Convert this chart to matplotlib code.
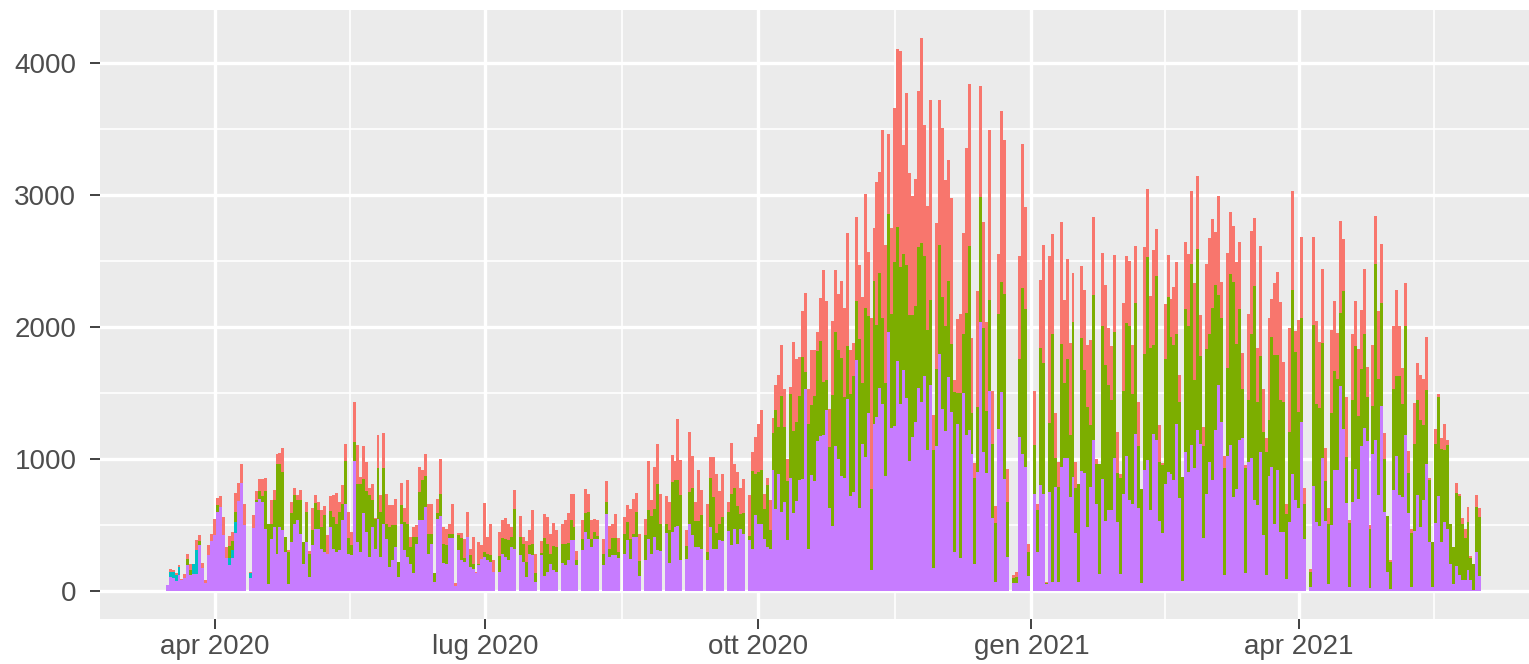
import numpy as np
import pandas as pd
import matplotlib
matplotlib.use("Agg")
import matplotlib.pyplot as plt
import matplotlib.dates as mdates

start_date = "2020-03-16"

# stack boundaries read per day (top of red = total, top of green, purple height)
red_top = [
    45, 170, 160, 139, 197, 96, 131, 286, 210, 210,
    387, 423, 215, 83, 354, 435, 544, 703, 721, 562,
    336, 422, 450, 746, 822, 961, 663, 0, 147, 580,
    760, 850, 848, 858, 513, 694, 765, 1043, 1050, 1086,
    412, 311, 677, 785, 727, 770, 374, 677, 303, 631,
    732, 677, 614, 644, 424, 720, 727, 745, 677, 808,
    1113, 600, 450, 1432, 1106, 866, 1100, 980, 785, 815,
    555, 1187, 727, 1202, 740, 654, 654, 697, 222, 820,
    631, 840, 410, 488, 500, 942, 922, 1038, 664, 664,
    140, 697, 1000, 487, 470, 508, 664, 60, 444, 444,
    398, 600, 323, 410, 150, 374, 348, 669, 412, 513,
    235, 0, 449, 543, 555, 507, 487, 770, 0, 568,
    412, 380, 467, 619, 285, 0, 379, 588, 563, 432,
    520, 462, 0, 513, 543, 593, 735, 740, 303, 0,
    538, 778, 740, 543, 550, 543, 0, 399, 833, 492,
    513, 583, 400, 0, 563, 656, 626, 702, 747, 437,
    0, 545, 990, 694, 942, 1113, 740, 0, 722, 677,
    1030, 990, 1308, 997, 0, 467, 1207, 1023, 677, 922,
    770, 0, 659, 1018, 1018, 886, 760, 886, 0, 677,
    1124, 967, 904, 785, 853, 0, 732, 1055, 1169, 1265,
    1376, 740, 858, 689, 1316, 1560, 1636, 1863, 1535, 1000,
    1548, 1886, 1756, 1774, 2120, 2258, 1535, 1827, 1827, 1960,
    2218, 2431, 2200, 1383, 2048, 2431, 2248, 2346, 2147, 2713,
    1827, 1880, 2838, 2474, 2226, 3011, 2572, 2067, 2750, 3096,
    3176, 3495, 2625, 3463, 2748, 3656, 4103, 4089, 3377, 3773,
    3167, 2991, 3120, 3790, 4192, 3530, 2916, 3718, 1338, 2790,
    3718, 3511, 3111, 3265, 2980, 1603, 2064, 2098, 2712, 3354,
    3838, 1919, 975, 2273, 3824, 2796, 2036, 3494, 1519, 645,
    2553, 3639, 3421, 929, 0, 120, 146, 2540, 3386, 2911,
    356, 0, 1518, 659, 2356, 2621, 70, 2538, 2702, 1351,
    980, 2793, 2204, 2520, 1881, 2411, 980, 815, 2464, 2280,
    1863, 1901, 2836, 1005, 967, 2565, 2318, 1997, 1856, 2545,
    1207, 886, 2184, 2538, 2500, 1863, 2616, 1434, 778, 2608,
    3050, 2235, 2588, 2740, 1257, 972, 2174, 2545, 2217, 2305,
    2490, 1641, 866, 2646, 2553, 3030, 2336, 3146, 2091, 1245,
    2482, 2679, 2820, 2722, 2992, 2343, 1023, 2563, 2871, 2765,
    2495, 2646, 1805, 960, 2103, 2730, 2830, 1843, 2613, 1535,
    1164, 2073, 2212, 2336, 2419, 2192, 1737, 664, 1997, 3030,
    1972, 2053, 2684, 785, 0, 172, 2684, 2045, 1889, 2444,
    1086, 634, 1982, 2199, 1957, 2803, 2664, 1472, 538, 1947,
    2199, 1838, 2129, 2437, 1700, 505, 1863, 2841, 2124, 2629,
    1200, 568, 235, 2007, 2285, 2007, 1694, 2331, 1063, 475,
    1427, 1725, 1636, 1611, 1927, 861, 374, 1232, 1497, 1164,
    1270, 1149, 513, 336, 821, 740, 558, 475, 639, 265,
    210, 732, 634,
]

green_top = [
    45, 150, 145, 121, 184, 83, 100, 243, 160, 210,
    316, 380, 180, 63, 278, 380, 430, 650, 637, 430,
    253, 341, 380, 600, 683, 822, 505, 0, 135, 480,
    690, 760, 720, 757, 510, 513, 690, 967, 967, 904,
    412, 298, 593, 727, 689, 694, 374, 601, 285, 467,
    669, 613, 487, 576, 285, 609, 563, 513, 601, 664,
    987, 407, 348, 1131, 816, 816, 850, 760, 727, 690,
    550, 934, 600, 934, 513, 487, 500, 500, 222, 654,
    525, 513, 335, 410, 410, 752, 841, 873, 437, 437,
    140, 595, 740, 361, 348, 437, 437, 40, 424, 407,
    250, 414, 273, 210, 140, 210, 247, 298, 280, 273,
    146, 0, 267, 406, 399, 386, 411, 621, 0, 411,
    361, 220, 351, 356, 139, 0, 290, 400, 361, 285,
    343, 336, 0, 361, 361, 368, 538, 487, 240, 0,
    397, 593, 601, 399, 449, 420, 0, 285, 677, 323,
    407, 407, 300, 0, 437, 525, 399, 437, 601, 227,
    0, 424, 614, 568, 626, 810, 513, 0, 513, 462,
    828, 840, 846, 727, 0, 341, 752, 785, 533, 533,
    576, 0, 298, 861, 715, 442, 513, 563, 0, 601,
    740, 783, 644, 588, 593, 0, 417, 912, 891, 904,
    922, 626, 803, 467, 1199, 1371, 1245, 1480, 1245, 836,
    1495, 1216, 1282, 1482, 1774, 1660, 1269, 1410, 1482, 1819,
    1894, 1588, 1600, 1096, 1490, 1960, 1827, 1766, 1468, 1854,
    1495, 1633, 2200, 1907, 1575, 2147, 2085, 776, 2346, 2014,
    2412, 2067, 1575, 2857, 2100, 2497, 2762, 2455, 2553, 2469,
    2092, 2092, 2162, 2609, 2637, 2539, 1980, 2209, 1073, 1687,
    2623, 2232, 2008, 2349, 1869, 1511, 1505, 1505, 1952, 2106,
    2617, 1352, 857, 1393, 2986, 1994, 1366, 2204, 1114, 514,
    2100, 2343, 2255, 677, 0, 100, 110, 1762, 2300, 2134,
    298, 0, 1106, 614, 1846, 1725, 60, 1275, 1952, 1013,
    790, 1869, 1581, 1762, 1181, 2042, 780, 815, 1919, 1679,
    1397, 1258, 2247, 967, 967, 2007, 1717, 1560, 1452, 1964,
    896, 861, 1518, 2028, 2007, 1492, 2184, 1098, 778, 1800,
    2533, 1846, 1864, 2386, 980, 954, 1762, 2225, 1922, 1863,
    1952, 1434, 866, 2134, 2007, 2475, 1598, 2590, 1780, 1098,
    1838, 1947, 2149, 2318, 2247, 2073, 937, 1694, 2401, 2343,
    1871, 2134, 1535, 937, 1447, 1952, 2310, 1434, 1780, 1207,
    1055, 1295, 1926, 1788, 1788, 1447, 1434, 588, 1207, 2280,
    1813, 1358, 2066, 664, 0, 146, 2015, 1417, 1391, 1881,
    833, 513, 1351, 1669, 1611, 2108, 2275, 1018, 518, 1447,
    1856, 1326, 1687, 1947, 1472, 475, 1401, 2482, 1611, 2184,
    1000, 568, 220, 1535, 1629, 1629, 1417, 2007, 896, 442,
    1119, 1452, 1300, 1257, 1523, 841, 374, 1119, 1472, 1081,
    1068, 1106, 513, 336, 745, 720, 508, 407, 525, 255,
    210, 639, 563,
]

purple = [
    45, 110, 100, 76, 126, 83, 100, 200, 121, 134,
    134, 354, 180, 63, 278, 380, 430, 600, 637, 430,
    253, 202, 250, 443, 683, 822, 505, 0, 101, 480,
    680, 700, 677, 475, 53, 399, 487, 285, 487, 462,
    298, 58, 374, 513, 538, 437, 210, 374, 109, 348,
    475, 475, 323, 298, 285, 487, 323, 298, 310, 538,
    664, 285, 272, 985, 374, 298, 590, 450, 260, 487,
    323, 550, 260, 513, 394, 185, 235, 335, 109, 513,
    311, 260, 210, 139, 361, 538, 538, 639, 285, 361,
    70, 550, 573, 215, 210, 400, 400, 40, 311, 235,
    222, 411, 185, 170, 139, 197, 247, 260, 235, 222,
    146, 0, 146, 285, 260, 235, 336, 323, 0, 273,
    222, 109, 285, 273, 70, 0, 273, 116, 146, 210,
    159, 146, 0, 215, 197, 235, 386, 386, 197, 0,
    311, 449, 399, 336, 399, 399, 0, 197, 588, 260,
    273, 273, 250, 0, 285, 391, 247, 411, 411, 116,
    0, 240, 399, 285, 411, 310, 303, 0, 442, 215,
    449, 487, 495, 240, 0, 247, 513, 424, 336, 336,
    323, 0, 235, 487, 323, 323, 386, 379, 0, 457,
    348, 475, 361, 475, 432, 0, 391, 323, 576, 513,
    508, 399, 336, 323, 917, 626, 886, 601, 677, 386,
    856, 590, 684, 843, 851, 1535, 319, 883, 835, 1136,
    1176, 1181, 1375, 630, 497, 1101, 1003, 870, 856, 1455,
    723, 750, 1748, 630, 1117, 1016, 1349, 165, 1269, 1322,
    1543, 1415, 870, 1960, 1240, 1254, 1743, 1421, 1673, 1463,
    989, 1170, 1282, 1539, 1436, 1631, 1073, 1561, 179, 1100,
    1799, 1380, 1212, 1623, 1360, 299, 1268, 249, 1505, 1184,
    1220, 1036, 207, 905, 2036, 1058, 897, 1519, 556, 67,
    1226, 1510, 853, 260, 0, 60, 60, 1169, 1043, 942,
    114, 0, 740, 298, 803, 735, 55, 752, 70, 790,
    70, 944, 1010, 1010, 714, 866, 442, 70, 909, 896,
    487, 790, 1146, 664, 134, 850, 533, 619, 619, 1013,
    525, 134, 735, 1023, 689, 659, 1194, 634, 63, 922,
    997, 619, 1189, 1149, 533, 442, 816, 904, 891, 846,
    1270, 709, 78, 1055, 904, 1106, 937, 1220, 1119, 400,
    740, 980, 846, 1225, 1560, 1283, 121, 1023, 1106, 715,
    778, 1144, 1164, 139, 980, 1013, 689, 651, 1055, 424,
    121, 871, 942, 513, 922, 449, 449, 96, 525, 886,
    689, 634, 1283, 399, 0, 33, 795, 525, 492, 1013,
    533, 53, 500, 922, 922, 1553, 1232, 669, 33, 677,
    929, 702, 1098, 1240, 1139, 28, 1038, 1144, 727, 1401,
    600, 146, 20, 770, 1023, 727, 715, 1182, 593, 33,
    457, 732, 487, 694, 962, 374, 33, 518, 720, 374,
    525, 475, 205, 58, 189, 121, 88, 88, 159, 83,
    8, 298, 114,
]

# cyan appears only on a few early days (day index, segment height)
cyan_days = [1, 2, 3, 4, 9, 10, 21, 22, 23, 28]
cyan_height = [40, 45, 45, 58, 76, 182, 50, 60, 81, 34]

x_breaks = ["2020-04-01", "2020-07-01", "2020-10-01", "2021-01-01", "2021-04-01"]
x_labels = ["apr 2020", "lug 2020", "ott 2020", "gen 2021", "apr 2021"]
y_breaks = [0, 1000, 2000, 3000, 4000]

col_red, col_green, col_cyan, col_purple = "#F8766D", "#7CAE00", "#00BFC4", "#C77CFF"

plt.rcParams["font.family"] = ["Liberation Sans", "DejaVu Sans"]

n = len(red_top)
dates = pd.date_range(start_date, periods=n, freq="D")
x = mdates.date2num(dates.to_pydatetime())
rt = np.array(red_top, float)
gt = np.array(green_top, float)
pu = np.array(purple, float)
cy = np.zeros(n)
cy[cyan_days] = cyan_height

fig = plt.figure(figsize=(15.29, 6.64), dpi=100)
ax = fig.add_axes([100 / 1529, 45 / 664, 1447 / 1529, 609 / 664])
ax.set_facecolor("#EBEBEB")

w = 0.9
kw = dict(width=1.0, linewidth=0, align="center", antialiased=False)
ax.bar(x, pu, color=col_purple, **kw)
ax.bar(x, cy, bottom=pu, color=col_cyan, **kw)
ax.bar(x, np.clip(gt - pu - cy, 0, None), bottom=pu + cy, color=col_green, **kw)
ax.bar(x, np.clip(rt - gt, 0, None), bottom=gt, color=col_red, **kw)

# limits with ggplot-like 5% expansion
lo, hi = x[0] - w / 2, x[-1] + w / 2
span = hi - lo
ax.set_xlim(lo - 0.05 * span, hi + 0.05 * span)
ymax = rt.max()
ax.set_ylim(-0.05 * ymax, 1.05 * ymax)

xb = mdates.date2num(pd.to_datetime(x_breaks).to_pydatetime())
ax.set_xticks(xb)
ax.set_xticklabels(x_labels)
xminor = list((xb[:-1] + xb[1:]) / 2)
xminor.append(xb[-1] + 45.5)
ax.set_xticks(xminor, minor=True)
ax.set_yticks(y_breaks)
ax.set_yticklabels([str(v) for v in y_breaks])
ax.set_yticks([500, 1500, 2500, 3500], minor=True)

ax.grid(which="major", color="white", linewidth=2.4)
ax.grid(which="minor", color="white", linewidth=1.2)
ax.set_axisbelow(True)

for s in ax.spines.values():
    s.set_visible(False)
ax.tick_params(which="major", direction="out", length=7, width=1.3, color="#333333",
               labelsize=20, labelcolor="#4D4D4D")
ax.tick_params(axis="x", which="major", pad=4)
ax.tick_params(axis="y", which="major", pad=10)
ax.tick_params(which="minor", length=0)

fig.savefig("out.png", dpi=100, facecolor="white")
